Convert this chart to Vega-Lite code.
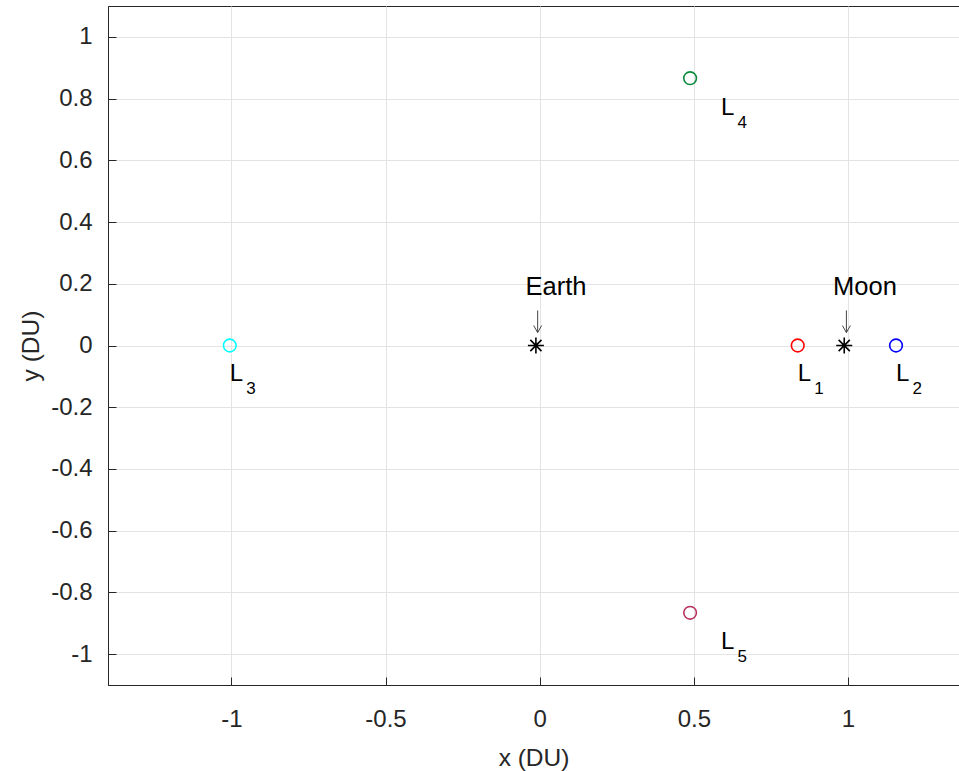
{
  "$schema": "https://vega.github.io/schema/vega-lite/v6.json",
  "width": 851,
  "height": 679,
  "autosize": "none",
  "padding": {"left": 108, "top": 6, "right": 0, "bottom": 86},
  "background": "white",
  "config": {
    "font": "Liberation Sans",
    "view": {"stroke": "#262626", "strokeWidth": 1},
    "axis": {
      "domainColor": "#262626",
      "tickColor": "#262626",
      "labelColor": "#262626",
      "titleColor": "#262626",
      "gridColor": "#e3e3e3",
      "gridWidth": 1,
      "tickSize": -8,
      "labelFontSize": 24,
      "titleFontSize": 24.5,
      "titleFontWeight": "normal",
      "labelFont": "Liberation Sans",
      "titleFont": "Liberation Sans"
    }
  },
  "datasets": {
    "points": [
      {"name": "L1", "x": 0.8369, "y": 0},
      {"name": "L2", "x": 1.1557, "y": 0},
      {"name": "L3", "x": -1.0051, "y": 0},
      {"name": "L4", "x": 0.4879, "y": 0.866},
      {"name": "L5", "x": 0.4879, "y": -0.866}
    ],
    "bodies": [
      {"name": "Earth", "x": -0.0122, "y": 0},
      {"name": "Moon", "x": 0.9878, "y": 0}
    ],
    "names": [
      {"text": "Earth", "x": 0.053, "y": 0.165},
      {"text": "Moon", "x": 1.055, "y": 0.165}
    ],
    "arrows": [
      {"x": -0.0065, "y": 0.1135, "y2": 0.042},
      {"x": 0.9948, "y": 0.1135, "y2": 0.042}
    ],
    "labels": [
      {"main": "L", "sub": "1", "x": 0.8369, "y": -0.1165},
      {"main": "L", "sub": "2", "x": 1.1557, "y": -0.1165},
      {"main": "L", "sub": "3", "x": -1.0051, "y": -0.1165},
      {"main": "L", "sub": "4", "x": 0.588, "y": 0.7476},
      {"main": "L", "sub": "5", "x": 0.588, "y": -0.984}
    ]
  },
  "layer": [
    {
      "data": {"name": "points"},
      "mark": {"type": "point", "shape": "circle", "filled": false, "size": 160, "strokeWidth": 1.6, "opacity": 1},
      "encoding": {
        "x": {
          "field": "x", "type": "quantitative",
          "scale": {"domain": [-1.4, 1.36], "nice": false, "zero": false},
          "axis": {
            "title": "x (DU)",
            "values": [-1, -0.5, 0, 0.5, 1],
            "labelExpr": "'' + datum.value",
            "labelPadding": 30,
            "titlePadding": 15,
            "grid": true
          }
        },
        "y": {
          "field": "y", "type": "quantitative",
          "scale": {"domain": [-1.1, 1.1], "nice": false, "zero": false},
          "axis": {
            "title": "y (DU)",
            "values": [-1, -0.8, -0.6, -0.4, -0.2, 0, 0.2, 0.4, 0.6, 0.8, 1],
            "labelExpr": "'' + datum.value",
            "labelPadding": 24,
            "titlePadding": 7,
            "grid": true
          }
        },
        "color": {
          "field": "name", "type": "nominal",
          "scale": {"domain": ["L1", "L2", "L3", "L4", "L5"], "range": ["#ff0000", "#0000ff", "#00ffff", "#0b8a3c", "#b8305f"]},
          "legend": null
        }
      }
    },
    {
      "data": {"name": "bodies"},
      "mark": {"type": "point", "shape": "M0,-1L0,1M-1,0L1,0M-0.7,-0.7L0.7,0.7M-0.7,0.7L0.7,-0.7", "filled": false, "stroke": "#000000", "strokeWidth": 1.6, "size": 256, "opacity": 1},
      "encoding": {
        "x": {"field": "x", "type": "quantitative"},
        "y": {"field": "y", "type": "quantitative"}
      }
    },
    {
      "data": {"name": "names"},
      "mark": {"type": "text", "fontSize": 25.5, "align": "center", "baseline": "alphabetic", "color": "#000000"},
      "encoding": {
        "x": {"field": "x", "type": "quantitative"},
        "y": {"field": "y", "type": "quantitative"},
        "text": {"field": "text"}
      }
    },
    {
      "data": {"name": "arrows"},
      "mark": {"type": "rule", "color": "#444444", "strokeWidth": 1},
      "encoding": {
        "x": {"field": "x", "type": "quantitative"},
        "y": {"field": "y", "type": "quantitative"},
        "y2": {"field": "y2"}
      }
    },
    {
      "data": {"name": "arrows"},
      "mark": {"type": "point", "shape": "M-1,-1.75L0,0L1,-1.75", "filled": false, "stroke": "#444444", "strokeWidth": 1, "size": 64, "opacity": 1},
      "encoding": {
        "x": {"field": "x", "type": "quantitative"},
        "y": {"field": "y2", "type": "quantitative"}
      }
    },
    {
      "data": {"name": "labels"},
      "mark": {"type": "text", "fontSize": 24, "align": "left", "baseline": "alphabetic", "color": "#000000"},
      "encoding": {
        "x": {"field": "x", "type": "quantitative"},
        "y": {"field": "y", "type": "quantitative"},
        "text": {"field": "main"}
      }
    },
    {
      "data": {"name": "labels"},
      "mark": {"type": "text", "fontSize": 17, "align": "left", "baseline": "alphabetic", "dx": 16.5, "dy": 13, "color": "#000000"},
      "encoding": {
        "x": {"field": "x", "type": "quantitative"},
        "y": {"field": "y", "type": "quantitative"},
        "text": {"field": "sub"}
      }
    }
  ]
}
